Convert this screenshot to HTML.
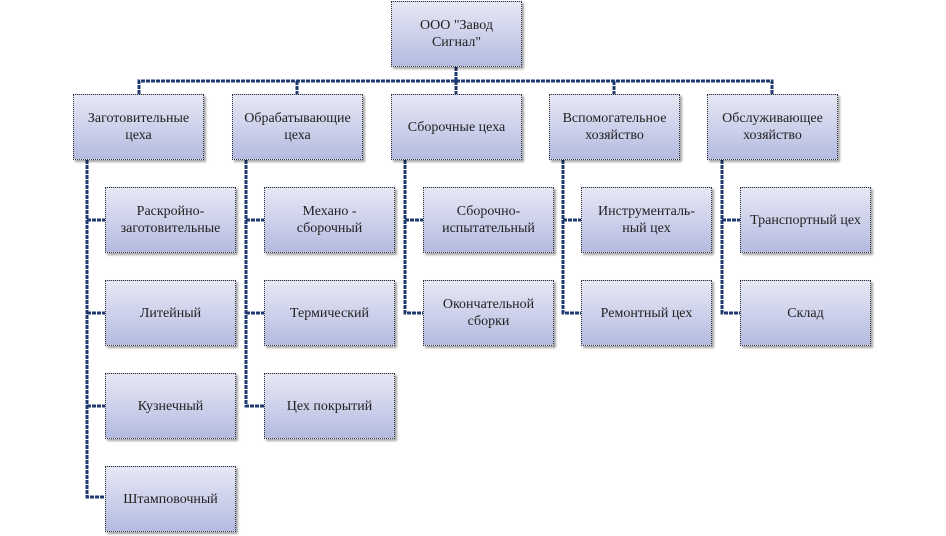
<!DOCTYPE html>
<html><head><meta charset="utf-8"><style>
body{margin:0;width:946px;height:536px;background:#fff;position:relative;overflow:hidden;font-family:"Liberation Serif",serif;}
.b{position:absolute;box-sizing:border-box;border:1px dotted #333;background:linear-gradient(#e6e8f4,#c9cde9 60%,#b4bbdf);display:flex;align-items:center;justify-content:center;text-align:center;font-size:14px;line-height:17px;color:#222;box-shadow:2px 2px 2px rgba(0,0,0,.35);}
svg{position:absolute;left:0;top:0}
</style></head><body>
<svg width="946" height="536"><g stroke="#1f3a70" stroke-width="3" fill="none" stroke-dasharray="4 1">
<path d="M456 67V81M139 94V81H772V94M297 81V94M456 81V94M614 81V94"/>
<path d="M87 160V497H105M87 220H105M87 313H105M87 406H105"/>
<path d="M246 160V406H264M246 220H264M246 313H264"/>
<path d="M405 160V313H423M405 220H423"/>
<path d="M563 160V313H581M563 220H581"/>
<path d="M722 160V313H740M722 220H740"/>
</g></svg>
<div class="b" style="left:391px;top:1px;width:131px;height:66px">ООО "Завод<br>Сигнал"</div>
<div class="b" style="left:73px;top:94px;width:131px;height:66px">Заготовительные<br>цеха</div>
<div class="b" style="left:232px;top:94px;width:131px;height:66px">Обрабатывающие<br>цеха</div>
<div class="b" style="left:391px;top:94px;width:131px;height:66px">Сборочные цеха</div>
<div class="b" style="left:549px;top:94px;width:131px;height:66px">Вспомогательное<br>хозяйство</div>
<div class="b" style="left:707px;top:94px;width:131px;height:66px">Обслуживающее<br>хозяйство</div>
<div class="b" style="left:105px;top:187px;width:131px;height:66px">Раскройно-<br>заготовительные</div>
<div class="b" style="left:105px;top:280px;width:131px;height:66px">Литейный</div>
<div class="b" style="left:105px;top:373px;width:131px;height:66px">Кузнечный</div>
<div class="b" style="left:105px;top:466px;width:131px;height:66px">Штамповочный</div>
<div class="b" style="left:264px;top:187px;width:131px;height:66px">Механо -<br>сборочный</div>
<div class="b" style="left:264px;top:280px;width:131px;height:66px">Термический</div>
<div class="b" style="left:264px;top:373px;width:131px;height:66px">Цех покрытий</div>
<div class="b" style="left:423px;top:187px;width:131px;height:66px">Сборочно-<br>испытательный</div>
<div class="b" style="left:423px;top:280px;width:131px;height:66px">Окончательной<br>сборки</div>
<div class="b" style="left:581px;top:187px;width:131px;height:66px">Инструменталь-<br>ный цех</div>
<div class="b" style="left:581px;top:280px;width:131px;height:66px">Ремонтный цех</div>
<div class="b" style="left:740px;top:187px;width:131px;height:66px">Транспортный цех</div>
<div class="b" style="left:740px;top:280px;width:131px;height:66px">Склад</div>
</body></html>
